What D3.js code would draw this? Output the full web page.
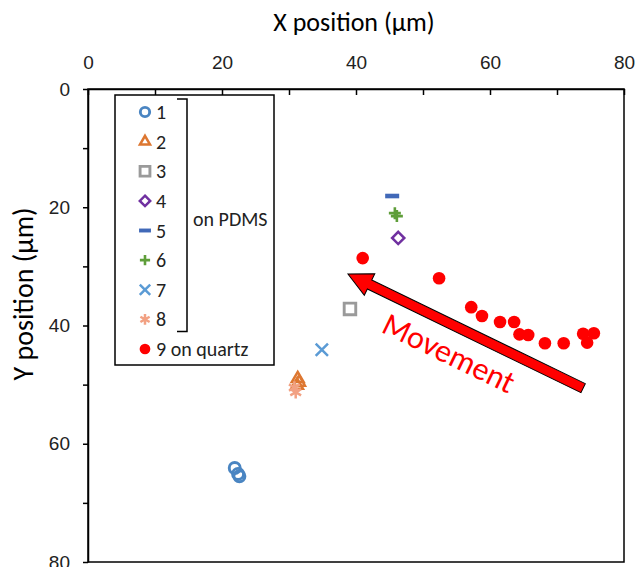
<!DOCTYPE html>
<html>
<head>
<meta charset="utf-8">
<script src="https://cdn.jsdelivr.net/npm/d3@7"></script>
<style>
  body { margin: 0; background: #fff; }
  svg { font-family: Carlito, Calibri, Lato, "Open Sans", sans-serif; }
  .axis path, .axis line { stroke: #000; stroke-width: 1.5; }
  .axis text { font-size: 19px; fill: #222; }
</style>
</head>
<body>
<div id="chart"></div>
<script>
// series data, [x, y] in micrometres
var s1 = [[21.9, 64.1], [22.4, 65.1], [22.6, 65.5]];
var s2 = [[31.3, 49.0], [31.5, 49.6], [31.2, 50.1]];
var s3 = [[39.1, 37.2]];
var s4 = [[46.3, 25.2]];
var s5 = [[45.4, 18.1]];
var s6 = [[45.8, 21.0], [46.1, 21.5]];
var s7 = [[34.9, 44.1]];
var s8 = [[30.8, 50.5], [31.0, 51.3]];
var s9 = [[41.0, 28.6], [52.4, 32.0], [57.2, 36.9], [58.8, 38.4], [61.5, 39.4],
          [63.6, 39.4], [64.4, 41.5], [65.7, 41.6], [68.2, 43.0], [71.0, 43.0],
          [73.9, 41.4], [74.5, 42.9], [75.5, 41.3]];

var xTicks = [0, 10, 20, 30, 40, 50, 60, 70, 80];
var yTicks = [0, 10, 20, 30, 40, 50, 60, 70, 80];
var legendLabels = ['1', '2', '3', '4', '5', '6', '7', '8', '9 on quartz'];

// annotation arrow, tail -> head, in data units
var arrowFrom = [73.9, 50.6];
var arrowTo = [38.8, 31.3];

var W = 637, H = 567;
var margin = {top: 89, right: 13, bottom: 5, left: 88};
var width = W - margin.left - margin.right,
    height = H - margin.top - margin.bottom;

var svg = d3.select('#chart').append('svg')
    .attr('width', W).attr('height', H);

var g = svg.append('g')
    .attr('transform', 'translate(' + margin.left + ',' + margin.top + ')');

var x = d3.scaleLinear().domain([0, 80]).range([0, width]);
var y = d3.scaleLinear().domain([0, 80]).range([0, height]);

// frame
g.append('rect')
    .attr('width', width).attr('height', height)
    .attr('fill', 'none').attr('stroke', '#000').attr('stroke-width', 1.5);

var xAxis = d3.axisTop(x)
    .tickValues(xTicks)
    .tickSizeInner(-6).tickSizeOuter(0).tickPadding(20)
    .tickFormat(function(d) { return d % 20 === 0 ? d : ''; });

var yAxis = d3.axisLeft(y)
    .tickValues(yTicks)
    .tickSizeInner(5).tickSizeOuter(0).tickPadding(13)
    .tickFormat(function(d) { return d % 20 === 0 ? d : ''; });

g.append('g').attr('class', 'axis').call(xAxis);
g.append('g').attr('class', 'axis').call(yAxis);

svg.append('text')
    .attr('x', margin.left + width / 2 - 2).attr('y', 31)
    .attr('text-anchor', 'middle')
    .style('font-size', '26px')
    .text('X position (\u03bcm)');

svg.append('text')
    .attr('transform', 'translate(33,' + (margin.top + 205) + ')rotate(-90)')
    .attr('text-anchor', 'middle')
    .style('font-size', '28px')
    .text('Y position (\u03bcm)');

// series styles
var series = [
  {data: s1, type: 'circle',   color: '#4a85c2'},
  {data: s2, type: 'triangle', color: '#dd7731'},
  {data: s3, type: 'square',   color: '#9a9a9a'},
  {data: s4, type: 'diamond',  color: '#7030a0'},
  {data: s5, type: 'dash',     color: '#4169b8'},
  {data: s6, type: 'plus',     color: '#5f9e3a'},
  {data: s7, type: 'times',    color: '#5b9bd5'},
  {data: s8, type: 'asterisk', color: '#f2a183'},
  {data: s9, type: 'dot',      color: '#ff0000'}
];

function drawMarker(sel, type, color, scale) {
  var k = scale || 1;
  if (type === 'dash') {
    sel.append('rect')
      .attr('x', -7 * k).attr('y', -2.3 * k)
      .attr('width', 14 * k).attr('height', 4.6 * k)
      .attr('fill', color);
    return;
  }
  if (type === 'dot') {
    sel.append('circle').attr('r', 6.3 * k).attr('fill', color);
    return;
  }
  if (type === 'plus') {
    var a = 6 * k;
    sel.append('path')
      .attr('d', 'M' + (-a) + ',0H' + a + 'M0,' + (-a) + 'V' + a)
      .attr('stroke', color).attr('stroke-width', 2.6);
    return;
  }
  var types = {
    circle: [d3.symbolCircle, 95],
    triangle: [d3.symbolTriangle2, 100],
    square: [d3.symbolSquare2, 170],
    diamond: [d3.symbolDiamond2, 95],
    times: [d3.symbolTimes, 100],
    asterisk: [d3.symbolAsterisk, 110]
  };
  var t = types[type];
  sel.append('path')
    .attr('d', d3.symbol().type(t[0]).size(t[1] * k * k)())
    .attr('fill', 'none')
    .attr('stroke', color)
    .attr('stroke-width', (type === 'square' || type === 'circle') ? 2.9 : 2.5);
}

series.forEach(function(s) {
  g.selectAll(null)
    .data(s.data)
    .enter().append('g')
    .attr('transform', function(d) { return 'translate(' + x(d[0]) + ',' + y(d[1]) + ')'; })
    .each(function() { drawMarker(d3.select(this), s.type, s.color, 1); });
});

// arrow
var ax0 = x(arrowFrom[0]), ay0 = y(arrowFrom[1]),
    ax1 = x(arrowTo[0]), ay1 = y(arrowTo[1]);
var len = Math.hypot(ax1 - ax0, ay1 - ay0);
var ang = Math.atan2(ay1 - ay0, ax1 - ax0) * 180 / Math.PI;
var hw = 5, headW = 12, headL = 24;
var arrowPts = [[0, -hw], [len - headL, -hw], [len - headL, -headW], [len, 0],
                [len - headL, headW], [len - headL, hw], [0, hw]];
g.append('path')
  .attr('transform', 'translate(' + ax0 + ',' + ay0 + ')rotate(' + ang + ')')
  .attr('d', d3.line()(arrowPts) + 'Z')
  .attr('fill', '#ff0000')
  .attr('stroke', '#000')
  .attr('stroke-width', 1);

g.append('text')
  .attr('transform', 'translate(' + x(53.9) + ',' + y(44.6) + ')rotate(' + (ang + 180) + ')')
  .attr('text-anchor', 'middle')
  .attr('dy', '0.35em')
  .attr('fill', '#ff0000')
  .style('font-size', '32px')
  .text('Movement');

// legend
var lg = svg.append('g').attr('transform', 'translate(115,95)');
lg.append('rect')
  .attr('width', 159).attr('height', 270)
  .attr('fill', '#fff').attr('stroke', '#000').attr('stroke-width', 1.5);

var rowY = d3.scaleLinear().domain([0, 8]).range([17, 254]);
series.forEach(function(s, i) {
  var row = lg.append('g').attr('transform', 'translate(30,' + rowY(i) + ')');
  drawMarker(row, s.type, s.color, 0.85);
  row.append('text')
    .attr('x', 11).attr('dy', '0.35em')
    .style('font-size', '20px')
    .attr('fill', '#222')
    .text(legendLabels[i]);
});

// bracket for PDMS group
lg.append('path')
  .attr('d', 'M62,' + (rowY(0) - 13) + 'H72V' + (rowY(7) + 12) + 'H62')
  .attr('fill', 'none').attr('stroke', '#000').attr('stroke-width', 1.5);
lg.append('text')
  .attr('x', 78).attr('y', rowY(3.6)).attr('dy', '0.35em')
  .style('font-size', '20px')
  .attr('fill', '#222')
  .text('on PDMS');
</script>
</body>
</html>
